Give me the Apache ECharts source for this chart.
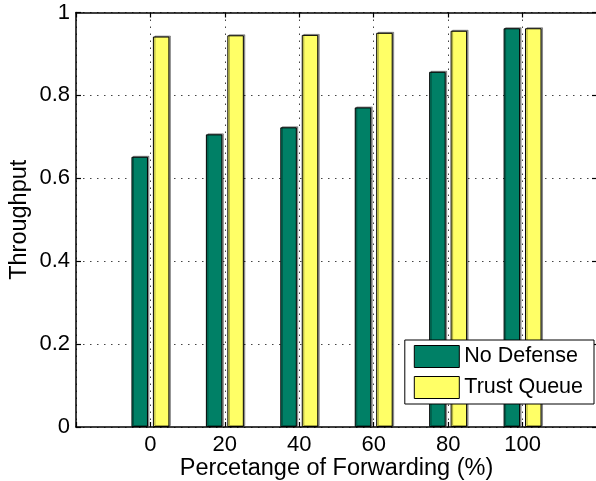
<!DOCTYPE html>
<html>
<head>
<meta charset="utf-8">
<script src="https://cdn.jsdelivr.net/npm/echarts@6/dist/echarts.min.js"></script>
<style>
html,body{margin:0;padding:0;background:#fff;}
#chart{width:596px;height:481px;}
</style>
</head>
<body>
<div id="chart"></div>
<script>
const categories = [0, 20, 40, 60, 80, 100];
const noDefense = [0.652, 0.706, 0.723, 0.771, 0.857, 0.962];
const trustQueue = [0.942, 0.945, 0.946, 0.951, 0.956, 0.962];
const seriesNames = ['No Defense', 'Trust Queue'];
const xTitle = 'Percetange of Forwarding (%)';
const yTitle = 'Throughput';

const FONT = '"Liberation Sans", Arial, Helvetica, sans-serif';
const chart = echarts.init(document.getElementById('chart'), null, {renderer: 'canvas'});
const dotted = {color: '#444', width: 1, type: [1.5, 5.5]};
const axisLine = {show: true, onZero: false, lineStyle: {color: '#000', width: 1.5}};
const tickIn = {show: true, inside: true, length: 5, lineStyle: {color: '#000', width: 1.2}};

function pairs(vals) { return categories.map((c, i) => [c, vals[i]]); }

const barStyle = (color) => ({
  color: color,
  borderColor: '#000',
  borderWidth: 1,
  shadowColor: 'rgba(0,0,0,0.35)',
  shadowOffsetX: 1.5,
  shadowOffsetY: -1,
  shadowBlur: 0
});

chart.setOption({
  animation: false,
  backgroundColor: '#fff',
  textStyle: {fontFamily: FONT},
  grid: {left: 76, right: -1, top: 12.5, bottom: 54, containLabel: false, outerBoundsMode: 'none'},
  legend: {
    orient: 'vertical',
    right: 2,
    top: 340,
    data: seriesNames,
    itemWidth: 45,
    itemHeight: 22,
    itemGap: 8,
    padding: [5, 11, 5, 9],
    backgroundColor: '#fff',
    borderColor: '#000',
    borderWidth: 1,
    borderRadius: 0,
    icon: 'rect',
    textStyle: {fontFamily: FONT, fontSize: 21.5, color: '#000'},
    itemStyle: {borderColor: '#000', borderWidth: 1}
  },
  xAxis: [{
    type: 'value', min: -20, max: 120, interval: 20, position: 'bottom',
    name: xTitle, nameLocation: 'middle', nameGap: 30, nameMoveOverlap: false,
    nameTextStyle: {fontFamily: FONT, fontSize: 23.5, color: '#000'},
    axisLine: axisLine, axisTick: tickIn,
    axisLabel: {fontFamily: FONT, fontSize: 22, color: '#000', margin: 7,
      formatter: v => (v < 0 || v > 100) ? '' : String(v)},
    splitLine: {show: true, lineStyle: dotted}
  }, {
    type: 'value', min: -20, max: 120, interval: 20, position: 'top',
    axisLine: axisLine, axisTick: tickIn, axisLabel: {show: false}, splitLine: {show: false}
  }],
  yAxis: [{
    type: 'value', min: 0, max: 1, interval: 0.2, position: 'left',
    name: yTitle, nameLocation: 'middle', nameGap: 44, nameMoveOverlap: false,
    nameTextStyle: {fontFamily: FONT, fontSize: 23.5, color: '#000'},
    axisLine: axisLine, axisTick: tickIn,
    axisLabel: {fontFamily: FONT, fontSize: 22, color: '#000', margin: 6},
    splitLine: {show: true, lineStyle: dotted}
  }, {
    type: 'value', min: 0, max: 1, interval: 0.2, position: 'right',
    axisLine: axisLine, axisTick: tickIn, axisLabel: {show: false}, splitLine: {show: false}
  }],
  series: [{
    name: seriesNames[0], type: 'bar', xAxisIndex: 0, yAxisIndex: 0,
    data: pairs(noDefense), barWidth: 16.5, barGap: '30%',
    itemStyle: barStyle('#008066')
  }, {
    name: seriesNames[1], type: 'bar', xAxisIndex: 0, yAxisIndex: 0,
    data: pairs(trustQueue), barWidth: 16.5, barGap: '30%',
    itemStyle: barStyle('#ffff66')
  }]
});
</script>
</body>
</html>
